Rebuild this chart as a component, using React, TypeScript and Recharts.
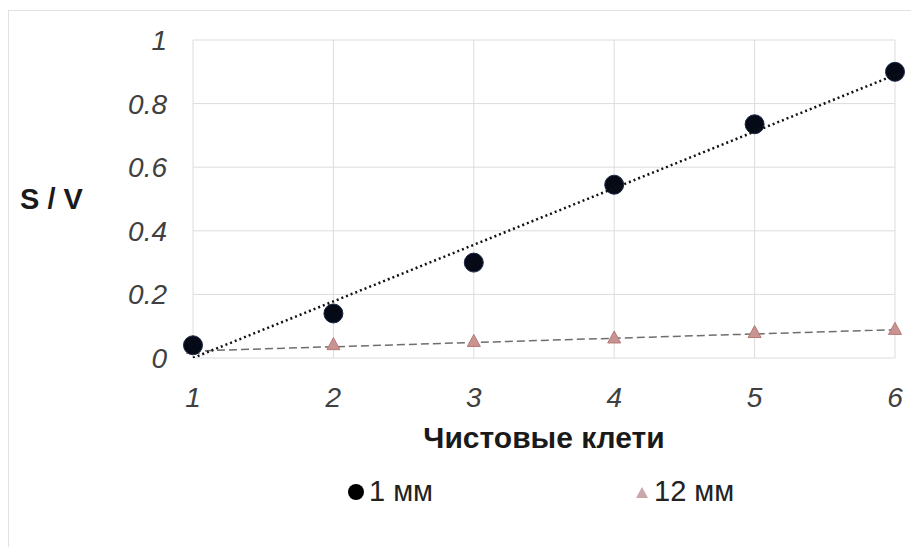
import React from 'react';
import { ScatterChart, Scatter, XAxis, YAxis, CartesianGrid } from 'recharts';

// stands (x) and S/V values
const stands = [1, 2, 3, 4, 5, 6];
const thin1mm = [0.04, 0.14, 0.3, 0.545, 0.735, 0.9];
const thick12mm = [0.03, 0.042, 0.052, 0.063, 0.08, 0.09];

// linear trendline ends (x = 1 and x = 6)
const trendX = [1, 6];
const trend1mm = [0, 0.89];
const trend12mm = [0.022, 0.089];

const xTicks = [1, 2, 3, 4, 5, 6];
const yTicks = [0, 0.2, 0.4, 0.6, 0.8, 1];

const pts1 = stands.map((x, i) => ({ x, y: thin1mm[i] }));
const pts12 = stands.map((x, i) => ({ x, y: thick12mm[i] }));
const line1 = trendX.map((x, i) => ({ x, y: trend1mm[i] }));
const line12 = trendX.map((x, i) => ({ x, y: trend12mm[i] }));

const tickStyle = { fill: '#404040', fontSize: 28, fontStyle: 'italic', fontFamily: 'Liberation Sans, Arial, sans-serif' };

const Dot = (props: any) => <circle cx={props.cx} cy={props.cy} r={9.5} fill="#050a16" stroke="#1c2a48" strokeWidth={1} />;
const Tri = (props: any) => {
  const { cx, cy } = props;
  return <polygon points={`${cx},${cy - 7} ${cx + 6.5},${cy + 5} ${cx - 6.5},${cy + 5}`} fill="#c99391" stroke="#b57876" strokeWidth={1} />;
};
const NoShape = () => <g />;

export default function App() {
  return (
    <div style={{ position: 'relative', width: 911, height: 539, fontFamily: 'Liberation Sans, Arial, sans-serif' }}>
      <div style={{ position: 'absolute', left: 0, top: 2, width: 909, height: 545, borderTop: '1px solid #e2e2e2', borderLeft: '1px solid #e2e2e2' }} />
      <ScatterChart width={911} height={539} margin={{ top: 32, right: 24, left: 0, bottom: 89 }}>
        <CartesianGrid stroke="#dcdcdc" strokeWidth={1} />
        <XAxis
          type="number"
          dataKey="x"
          domain={[1, 6]}
          ticks={xTicks}
          axisLine={false}
          tickLine={false}
          tickMargin={23}
          height={100}
          tick={tickStyle}
          label={{ value: 'Чистовые клети', position: 'insideBottom', offset: 10, fill: '#1a1a1a', fontSize: 30, fontWeight: 'bold' }}
        />
        <YAxis
          type="number"
          dataKey="y"
          domain={[0, 1]}
          ticks={yTicks}
          allowDataOverflow
          axisLine={false}
          tickLine={false}
          tickMargin={20}
          width={185}
          tick={tickStyle}
          label={{ value: 'S / V', position: 'insideLeft', offset: 12, angle: 0, fill: '#1a1a1a', fontSize: 29, fontWeight: 'bold' }}
        />
        <Scatter data={line12} shape={NoShape} line={{ stroke: '#6e6e6e', strokeWidth: 1.5, strokeDasharray: '8 4' }} isAnimationActive={false} />
        <Scatter data={pts12} shape={Tri} isAnimationActive={false} />
        <Scatter data={pts1} shape={Dot} isAnimationActive={false} />
        <Scatter data={line1} shape={NoShape} line={{ stroke: '#111', strokeWidth: 2.5, strokeDasharray: '2 3' }} isAnimationActive={false} />
      </ScatterChart>
      <div style={{ position: 'absolute', top: 467, left: 339, fontSize: 29, color: '#222', display: 'flex', alignItems: 'center' }}>
        <svg width={18} height={18} style={{ marginRight: 4 }}><circle cx={9} cy={9} r={8} fill="#000" /></svg>
        <span>1 мм</span>
      </div>
      <div style={{ position: 'absolute', top: 467, left: 627, fontSize: 29, color: '#222', display: 'flex', alignItems: 'center' }}>
        <svg width={14} height={14} style={{ marginRight: 5 }}><polygon points="7,2 13,13 1,13" fill="#c9a8aa" /></svg>
        <span>12 мм</span>
      </div>
    </div>
  );
}
